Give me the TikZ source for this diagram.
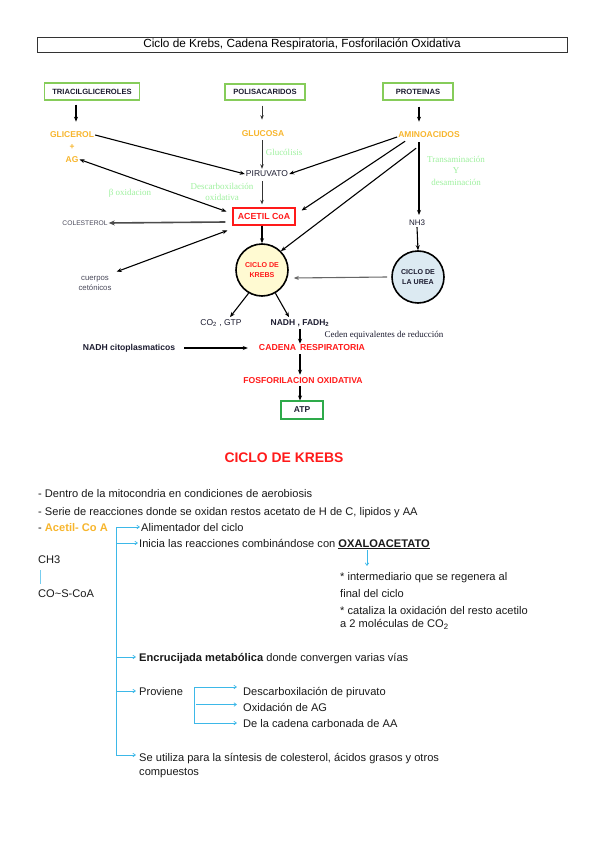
\documentclass[tikz,border=0pt]{standalone}
\usepackage{fontspec}
\setmainfont{Liberation Sans}
\newfontfamily\serifl{Liberation Serif}
\usetikzlibrary{arrows.meta,calc}
\definecolor{orng}{HTML}{F7B52C}
\definecolor{pgreen}{HTML}{9EF09E}
\definecolor{rd}{HTML}{FF1A1A}
\definecolor{boxg}{HTML}{86CC5A}
\definecolor{atpg}{HTML}{2EAA4A}
\definecolor{cyn}{HTML}{3DB8E8}
\definecolor{dk}{HTML}{1C1C30}
\definecolor{kfill}{HTML}{FFFAD2}
\definecolor{ufill}{HTML}{DCEAF2}
\tikzset{
  srcbox/.style={draw=boxg,line width=1.3pt,inner sep=0pt,font=\fontsize{7.6}{8}\selectfont\bfseries,text=dk},
  orange/.style={font=\fontsize{8.5}{9}\selectfont\bfseries,text=orng,inner sep=1pt},
  plain/.style={font=\fontsize{8.5}{9}\selectfont,text=dk,inner sep=1pt},
  glabel/.style={font=\serifl\fontsize{9}{10}\selectfont,text=pgreen,align=center,inner sep=0pt},
  redlab/.style={font=\fontsize{8.7}{9}\selectfont\bfseries,text=rd,inner sep=1pt},
  tiny/.style={font=\fontsize{6.7}{8}\selectfont,text=dk!80,align=center,inner sep=1pt},
  arr/.style={-{Stealth[length=5pt,width=4pt]},line width=1.1pt,black},
  thinarr/.style={-{Stealth[length=4.5pt,width=3.5pt]},line width=0.8pt,black!80},
  darr/.style={{Stealth[length=5pt,width=4pt]}-{Stealth[length=5pt,width=4pt]},line width=1.1pt,black},
  cy/.style={cyn,line width=0.7pt},
  cyarr/.style={cyn,line width=0.7pt,-{Straight Barb[length=2.5pt,width=3.5pt]}},
  txt/.style={anchor=base west,inner sep=0pt,font=\fontsize{11.1}{12}\selectfont,text=black!90},
  circ/.style={circle,draw=black,line width=1.6pt,minimum size=52pt,inner sep=0pt,align=center,font=\fontsize{7.1}{10}\selectfont\bfseries}
}
\begin{document}
\begin{tikzpicture}[x=1pt,y=-1pt]
\useasboundingbox (0,0) rectangle (599,848);
% title
\node[draw=black!80,line width=0.6pt,minimum width=530pt,minimum height=15pt,inner sep=0pt,font=\fontsize{11.8}{12}\selectfont] (title) at (302,44.5) {Ciclo de Krebs, Cadena Respiratoria, Fosforilación Oxidativa};
% source boxes
\node[srcbox,minimum width=95pt,minimum height=17pt] (tri) at (92,91.5) {TRIACILGLICEROLES};
\node[srcbox,minimum width=80pt,minimum height=16pt] (poli) at (265,92) {POLISACARIDOS};
\node[srcbox,minimum width=70pt,minimum height=17pt] (prot) at (418,91.5) {PROTEINAS};
% orange products
\node[orange] (glicerol) at (72,135) {GLICEROL};
\node[orange] (plus) at (72,147) {+};
\node[orange] (ag) at (72,159.5) {AG};
\node[orange] (glucosa) at (263,134) {GLUCOSA};
\node[orange] (amino) at (429,135) {AMINOACIDOS};
% labels
\node[glabel] (gluco) at (284,152) {Glucólisis};
\node[glabel,font=\serifl\fontsize{9}{11}\selectfont] (descarb) at (222,191.5) {Descarboxilación\\oxidativa};
\node[glabel] (beta) at (130,193) {β oxidacion};
\node[glabel,font=\serifl\fontsize{9}{11.5}\selectfont] (trans) at (456,170.5) {Transaminación\\Y\\desaminación};
% mid nodes
\node[plain] (piruvato) at (267,174) {PIRUVATO};
\node[draw=rd,line width=1.2pt,minimum width=62pt,minimum height=17pt,inner sep=0pt,font=\fontsize{8.8}{9}\selectfont\bfseries,text=rd] (acetil) at (264,216.5) {ACETIL CoA};
\node[tiny] (colest) at (85,223) {COLESTEROL};
\node[tiny,font=\fontsize{7.8}{10}\selectfont] (cuerpos) at (95,283) {cuerpos\\cetónicos};
\node[plain,font=\fontsize{8}{9}\selectfont] (nh3) at (417,223) {NH3};
\node[circ,fill=kfill,text=rd] (krebs) at (262,270) {CICLO DE\\KREBS};
\node[circ,fill=ufill,text=dk] (urea) at (418,277) {CICLO DE\\LA UREA};
\node[plain] (co2) at (221,323) {CO\textsubscript{2} , GTP};
\node[plain,font=\fontsize{8.5}{9}\selectfont\bfseries] (nadh) at (300,323) {NADH , FADH\textsubscript{2}};
\node[font=\serifl\fontsize{9}{10}\selectfont,text=dk,inner sep=0pt] (ceden) at (384,335.5) {Ceden equivalentes de reducción};
\node[plain,font=\fontsize{8.6}{9}\selectfont\bfseries] (nadhc) at (129,348) {NADH citoplasmaticos};
\node[redlab] (cadena) at (312,348) {CADENA\, RESPIRATORIA};
\node[redlab,font=\fontsize{8.6}{9}\selectfont\bfseries] (fosfo) at (303,381) {FOSFORILACION OXIDATIVA};
\node[draw=atpg,line width=1.1pt,minimum width=42pt,minimum height=18pt,inner sep=0pt,font=\fontsize{8.5}{9}\selectfont\bfseries,text=dk] (atp) at (302,410) {ATP};
% top arrows
\draw[arr] ($(tri.south)+(-16,4)$) -- ($(tri.south)+(-16,21)$);
\draw[thinarr] ($(poli.south)+(-3,5)$) -- ($(poli.south)+(-3,19)$);
\draw[arr] ($(prot.south)+(1,6)$) -- ($(prot.south)+(1,21)$);
\draw[thinarr] ($(glucosa.south -| 262,0)+(0,2)$) -- ($(piruvato.north -| 262,0)+(0,-1)$);
\draw[arr] (glicerol.east) -- (piruvato.west);
\draw[arr] ($(amino.west)+(0,2)$) -- (piruvato.east);
\draw[thinarr] ($(piruvato.south -| 262,0)+(0,3)$) -- ($(acetil.north -| 262,0)+(0,-3)$);
\draw[darr] (ag.east) -- ($(acetil.west)+(-6,-5)$);
\draw[-{Stealth[length=6pt,width=5pt]},line width=1.6pt,black!70] ($(acetil.west)+(-7,5.5)$) -- (colest.east);
\draw[darr] ($(acetil.west)+(-5,14)$) -- ($(cuerpos.north east)+(4,-3)$);
\draw[arr] ($(amino.south west)+(8,2)$) -- ($(acetil.east)+(6,-6)$);
\draw[arr] ($(amino.south west)+(19,9)$) -- (krebs.north east);
\draw[arr] ($(amino.south)+(-10,3)$) -- ($(nh3.north)+(2,-4)$);
\draw[arr] (nh3.south) -- (urea.north);
\draw[-{Stealth[length=5pt,width=4pt]},line width=1.1pt,black!60] ($(urea.west)+(-4,0)$) -- ($(krebs.east)+(5,8)$);
\draw[arr] (acetil.south -| 262,0) -- (krebs.north);
\draw[arr] (krebs.240) -- ($(co2.north)+(9,-1)$);
\draw[arr] (krebs.300) -- ($(nadh.north)+(-11,-1)$);
\draw[arr] ($(nadh.south)+(0,1)$) -- (cadena.north -| nadh.south);
\draw[arr] ($(nadhc.east)+(8,0)$) -- ($(cadena.west)+(-10,0)$);
\draw[arr] ($(cadena.south -| 300,0)+(0,2)$) -- ($(fosfo.north -| 300,0)+(0,-2)$);
\draw[arr] ($(fosfo.south -| 300,0)+(0,1)$) -- (atp.north -| 300,0);
% ===== bottom section
\node[font=\fontsize{13.9}{15}\selectfont\bfseries,text=rd] (ck) at (284,458) {CICLO DE KREBS};
\node[txt] (l1) at (38,497) {- Dentro de la mitocondria en condiciones de aerobiosis};
\node[txt] (l2) at (38,515) {- Serie de reacciones donde se oxidan restos acetato de H de C, lipidos y AA};
\node[txt] (l3) at (38,531) {- \textcolor{orng}{\textbf{Acetil- Co A}}};
\node[txt] (a1) at (141,531) {Alimentador del ciclo};
\node[txt] (a2) at (139,547) {Inicia las reacciones combinándose con \underline{\textbf{OXALOACETATO}}};
\node[txt] (ch3) at (38,563) {CH3};
\node[txt] (coscoa) at (38,597) {CO\textasciitilde S-CoA};
\node[txt] (inter1) at (340,580) {* intermediario que se regenera al};
\node[txt] (inter2) at (340,597) {final del ciclo};
\node[txt] (cata1) at (340,614) {* cataliza la oxidación del resto acetilo};
\node[txt] (cata2) at (340,627.5) {a 2 moléculas de CO\textsubscript{2}};
\node[txt] (a3) at (139,661) {\textbf{Encrucijada metabólica} donde convergen varias vías};
\node[txt] (a4) at (139,695) {Proviene};
\node[txt] (p1) at (243,695) {Descarboxilación de piruvato};
\node[txt] (p2) at (243,711) {Oxidación de AG};
\node[txt] (p3) at (243,727) {De la cadena carbonada de AA};
\node[txt] (a5) at (139,761) {Se utiliza para la síntesis de colesterol, ácidos grasos y otros};
\node[txt] (a5b) at (139,775) {compuestos};
% cyan connectors
\coordinate (b0) at (116,527);
\coordinate (b1) at (116,543);
\coordinate (b3) at (116,657);
\coordinate (b4) at (116,691);
\coordinate (b5) at (116,755);
\draw[cy] (b0) -- (b5);
\draw[cyarr] (b0) -- ($(b0 -| a1.west)+(-1,0)$);
\draw[cyarr] (b1) -- ($(b1 -| a2.west)+(-1,0)$);
\draw[cyarr] (b3) -- ($(b3 -| a3.west)+(-3,0)$);
\draw[cyarr] (b4) -- ($(b4 -| a4.west)+(-3,0)$);
\draw[cyarr] (b5) -- ($(b5 -| a5.west)+(-3,0)$);
\coordinate (c0) at (194,687);
\coordinate (c1) at (196,704.5);
\coordinate (c2) at (194,723);
\draw[cy,line width=0.6pt] (c0) -- (c2);
\draw[cyarr] (c0) -- ($(c0 -| p1.west)+(-6,0)$);
\draw[cyarr] (c1) -- ($(c1 -| p1.west)+(-6,0)$);
\draw[cyarr] (c2) -- ($(c2 -| p1.west)+(-6,0)$);
\coordinate (ox) at (367,550);
\draw[cyarr] (ox) -- (367,566);
\draw[cyn!70,line width=0.7pt] (40,570) -- (40,584);
\end{tikzpicture}
\end{document}
